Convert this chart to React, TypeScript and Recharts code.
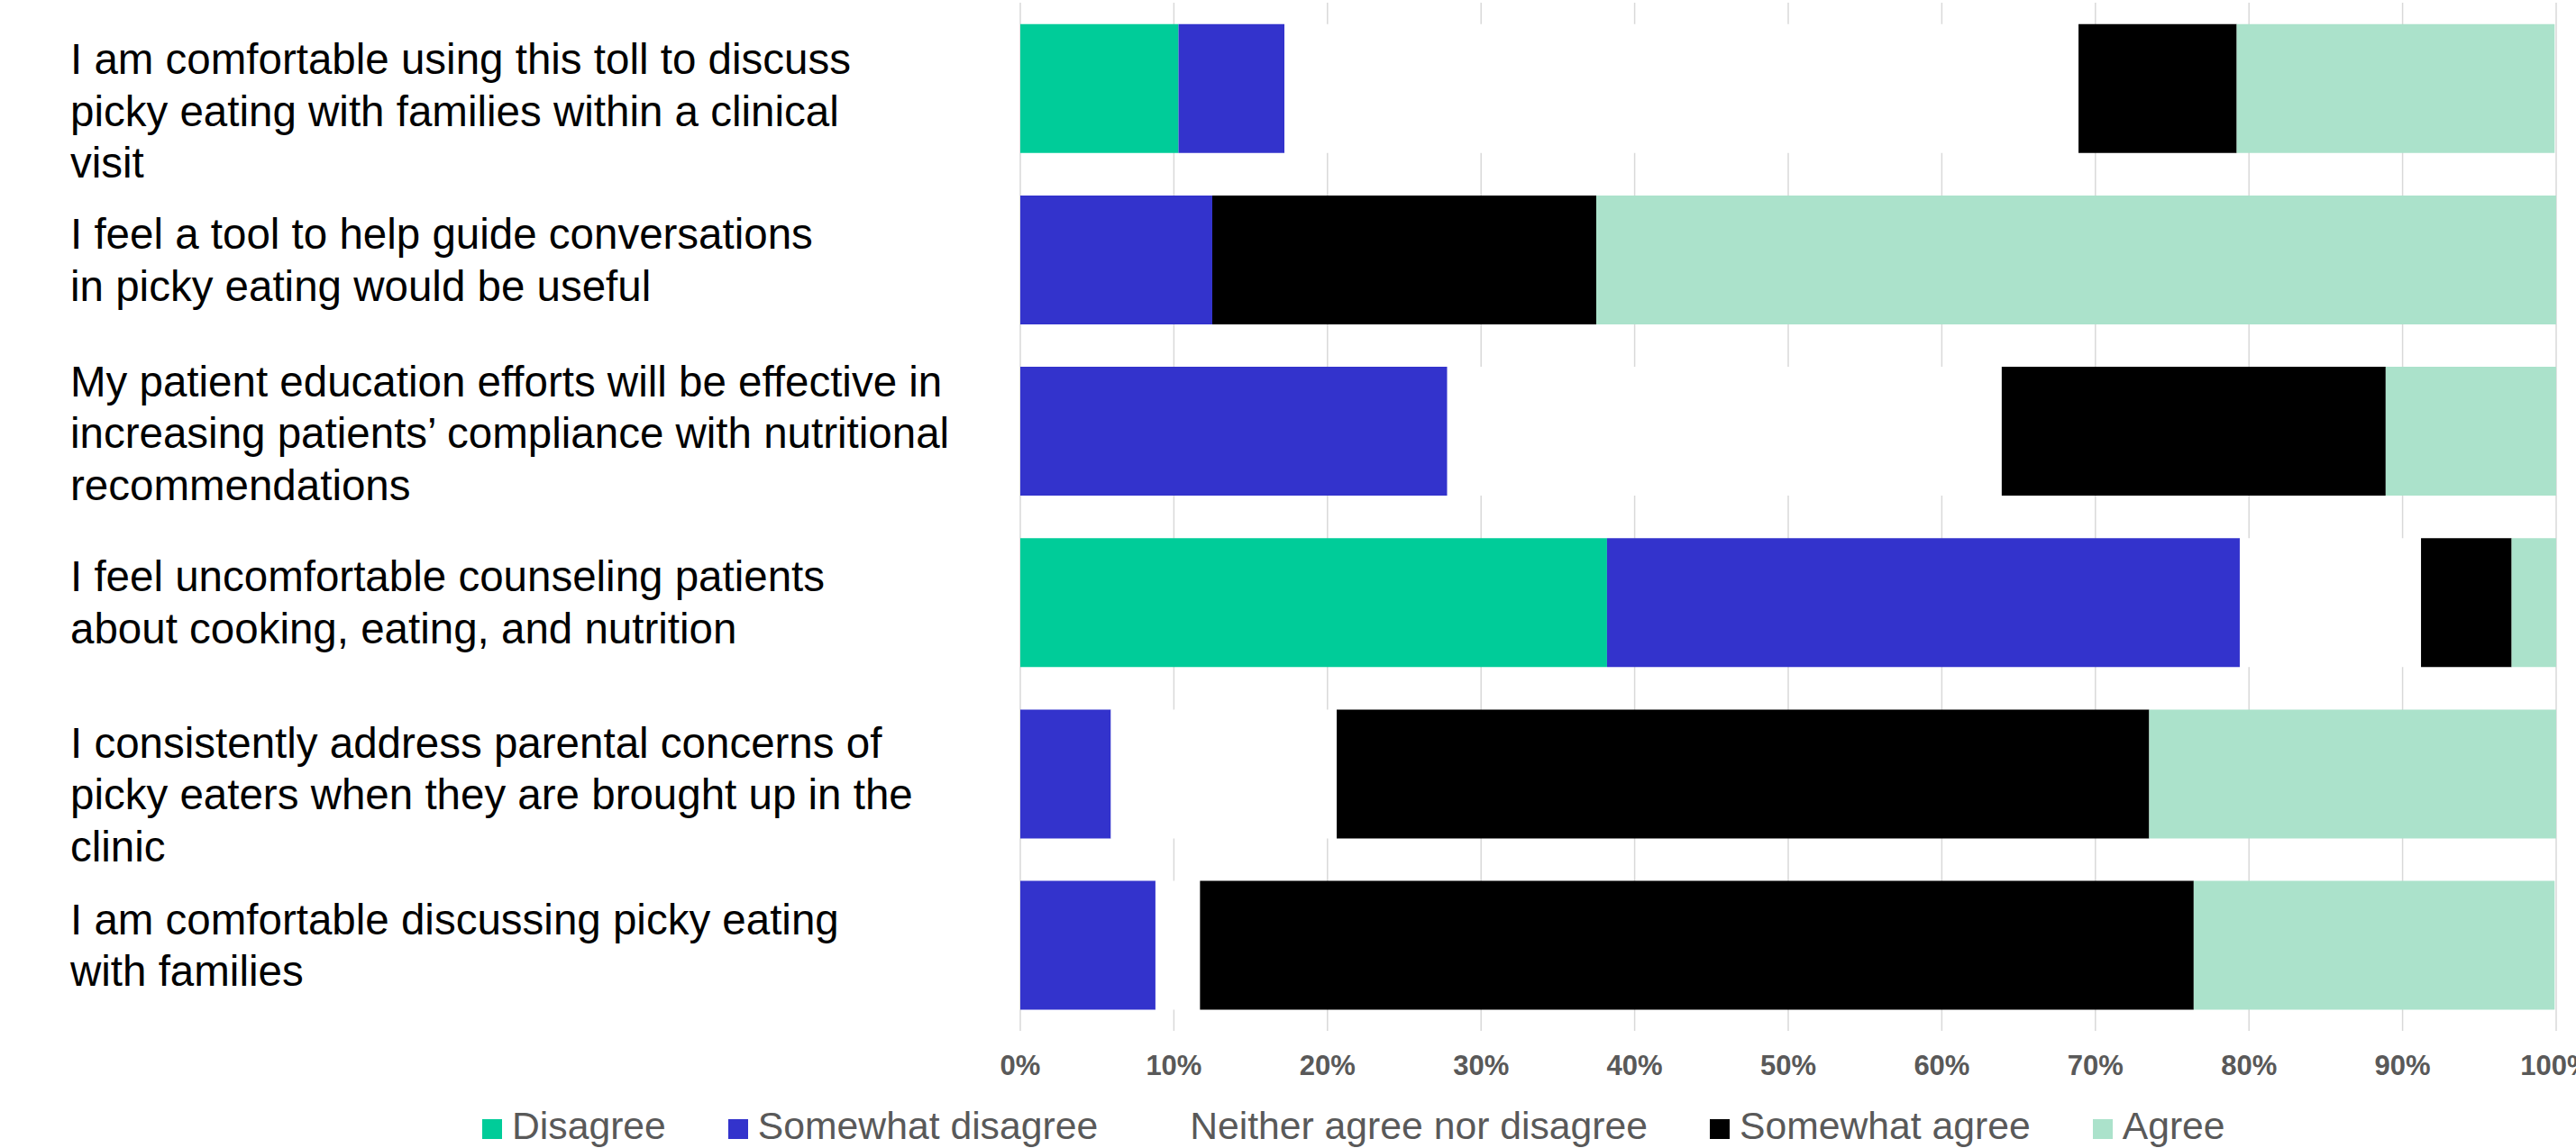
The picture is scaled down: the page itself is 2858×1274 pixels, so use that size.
import React from 'react';
import { BarChart, Bar, XAxis, YAxis, CartesianGrid, Legend } from 'recharts';

// Category labels (line breaks as in the original)
const categories = [
  'I am comfortable using this toll to discuss\npicky eating with families within a clinical\nvisit',
  'I feel a tool to help guide conversations\nin picky eating would be useful',
  'My patient education efforts will be effective in\nincreasing patients’ compliance with nutritional\nrecommendations',
  'I feel uncomfortable counseling patients\nabout cooking, eating, and nutrition',
  'I consistently address parental concerns of\npicky eaters when they are brought up in the\nclinic',
  'I am comfortable discussing picky eating\nwith families',
];

// Series values (percent)
const disagree = [10.3, 0, 0, 38.2, 0, 0];
const somewhatDisagree = [6.9, 12.5, 27.8, 41.2, 5.9, 8.8];
const neither = [51.7, 0, 36.1, 11.8, 14.7, 2.9];
const somewhatAgree = [10.3, 25.0, 25.0, 5.9, 52.9, 64.7];
const agree = [20.7, 62.5, 11.1, 2.9, 26.5, 23.5];

const seriesNames = [
  'Disagree',
  'Somewhat disagree',
  'Neither agree nor disagree',
  'Somewhat agree',
  'Agree',
];
const xTicks = [0, 10, 20, 30, 40, 50, 60, 70, 80, 90, 100];

const KEYS = ['disagree', 'somewhatDisagree', 'neither', 'somewhatAgree', 'agree'];
const COLORS = ['#00CC99', '#3333CC', '#FFFFFF', '#000000', '#ABE2CB'];
const SERIES = [disagree, somewhatDisagree, neither, somewhatAgree, agree];

const data = categories.map((name, i) => {
  const row: Record<string, any> = { name };
  KEYS.forEach((k, j) => {
    row[k] = SERIES[j][i];
  });
  return row;
});

const FONT = "'Liberation Sans', Arial, Helvetica, sans-serif";
const LABEL_X = 78;
const LABEL_FONT = 47.5;
const LINE_H = 57.5;
const LABEL_SHIFT = [25, 0, 2, 0, 23, 0];

function CategoryTick(props: any) {
  const { y, payload } = props;
  const value = String(payload.value);
  const idx = categories.indexOf(value);
  const lines = value.split('\n');
  const center = y + (LABEL_SHIFT[idx] || 0);
  return (
    <text fontFamily={FONT} fontSize={LABEL_FONT} fill="#000000" textAnchor="start">
      {lines.map((l, i) => (
        <tspan
          key={i}
          x={LABEL_X}
          y={center + (i - (lines.length - 1) / 2) * LINE_H + 0.35 * LABEL_FONT}
        >
          {l}
        </tspan>
      ))}
    </text>
  );
}

function LegendContent(props: any) {
  const payload = [...(props.payload || [])].sort(
    (a: any, b: any) => seriesNames.indexOf(a.value) - seriesNames.indexOf(b.value)
  );
  return (
    <div
      style={{
        display: 'flex',
        paddingLeft: 535,
        height: 50,
        lineHeight: '50px',
        fontFamily: FONT,
        fontSize: 42.7,
        color: '#595959',
        whiteSpace: 'nowrap',
      }}
    >
      {payload.map((p: any, i: number) => (
        <span key={i} style={{ marginRight: 69 }}>
          <span
            style={{
              display: 'inline-block',
              width: 22,
              height: 22,
              background: p.color,
              marginRight: 11,
              verticalAlign: 'baseline',
            }}
          />
          {p.value}
        </span>
      ))}
    </div>
  );
}

export default function App() {
  return (
    <div style={{ position: 'absolute', left: 0, top: 0, background: '#fff' }}>
      <BarChart
        width={2858}
        height={1274}
        data={data}
        layout="vertical"
        barCategoryGap="12.5%"
        margin={{ top: 3, right: 22, bottom: 0, left: 0 }}
      >
        <CartesianGrid horizontal={false} vertical stroke="#D9D9D9" strokeWidth={1.5} />
        <XAxis
          type="number"
          domain={[0, 100]}
          ticks={xTicks}
          allowDataOverflow
          tickFormatter={(v: number) => `${v}%`}
          axisLine={false}
          tickLine={false}
          tickSize={0}
          tickMargin={27}
          height={80}
          interval={0}
          tick={{ fill: '#595959', fontSize: 31, fontWeight: 'bold', fontFamily: FONT }}
        />
        <YAxis
          type="category"
          dataKey="name"
          width={1132}
          axisLine={false}
          tickLine={false}
          interval={0}
          tick={<CategoryTick />}
        />
        <Legend
          verticalAlign="bottom"
          align="left"
          itemSorter={null as any}
          wrapperStyle={{ left: 0, bottom: 0, width: 2858, height: 50 }}
          content={<LegendContent />}
        />
        {KEYS.map((k, j) => (
          <Bar
            key={k}
            dataKey={k}
            name={seriesNames[j]}
            stackId="a"
            fill={COLORS[j]}
            isAnimationActive={false}
          />
        ))}
      </BarChart>
    </div>
  );
}
